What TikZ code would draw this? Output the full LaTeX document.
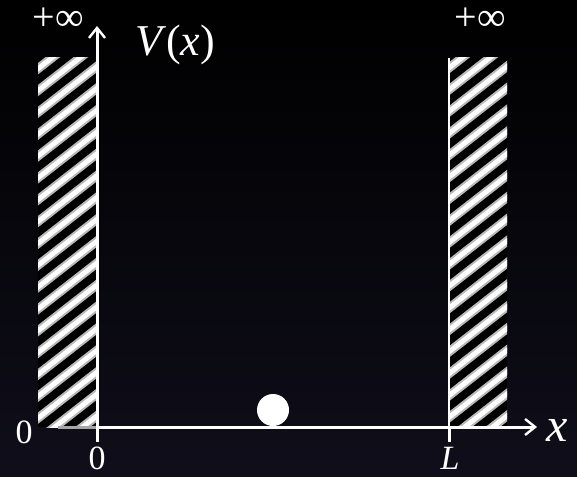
\documentclass[tikz,border=0pt]{standalone}
\usepackage{fontspec}
\setmainfont{Liberation Serif}
\usetikzlibrary{arrows.meta}
\definecolor{nightbot}{RGB}{15,14,26}

\begin{document}
\begin{tikzpicture}[x=0.5pt, y=-0.5pt,
    every node/.style={text=white, inner sep=0pt},
    small/.style={font=\fontsize{20}{22}\selectfont},
    num/.style={font=\fontsize{17}{19}\selectfont},
    big/.style={font=\fontsize{22}{25}\selectfont},
    axis/.style={white, line width=1.5pt},
    stripe/.style={white, line width=2.4pt},
    blur/.style={gray!55, line width=4.5pt},
    ball/.style={circle, fill=white, minimum size=16pt}]
    % background
    \shade[top color=black, bottom color=nightbot] (0,0) rectangle (577,476);

    % hatched walls
    \foreach \wx in {38, 448} {
      \begin{scope}
        \clip (\wx,58) rectangle (\wx+59,427);
        \fill[black] (\wx,58) rectangle (\wx+59,427);
        \foreach \i in {-18,...,3} {
          \draw[blur]   (\wx+\i*28,440) -- ++(500,-390);
          \draw[stripe] (\wx+\i*28,440) -- ++(500,-390);
        }
      \end{scope}
    }
    \draw[white, line width=1pt] (448.5,58) -- (448.5,427);

    % axes
    \coordinate (orig) at (97,427);
    \coordinate (ytop) at (97,26);
    \coordinate (ybot) at (97,442);
    \coordinate (xbeg) at (58,427);
    \coordinate (xend) at (537,427);
    \coordinate (lpos) at (449,427);
    \coordinate (lbot) at (449,442);
    \draw[gray!70, line width=1.5pt] (xbeg) -- (orig);
    \draw[axis, -{Straight Barb[length=5pt, width=8pt, line width=1.2pt]}] (orig) -- (xend);
    \draw[axis, -{Straight Barb[length=5pt, width=8pt, line width=1.2pt]}] (ybot) -- (ytop);
    \draw[axis] (lpos) -- (lbot);

    \node[ball] (ball) at (273,410) {};

    \node[small] (infl) at (58,19) {+∞};
    \node[small] (infr) at (480,19) {+∞};
    \node[big] (vlab) at (175,45) {\textit{V}(\textit{x})};
    \node[big, font=\fontsize{24}{26}\selectfont] (xlab) at (557,430) {\textit{x}};
    \node[num] (zleft) at (24,432) {0};
    \node[num] (zbot) at (97,458) {0};
    \node[num] (llab) at (450,458) {\textit{L}};
  \end{tikzpicture}
\end{document}
